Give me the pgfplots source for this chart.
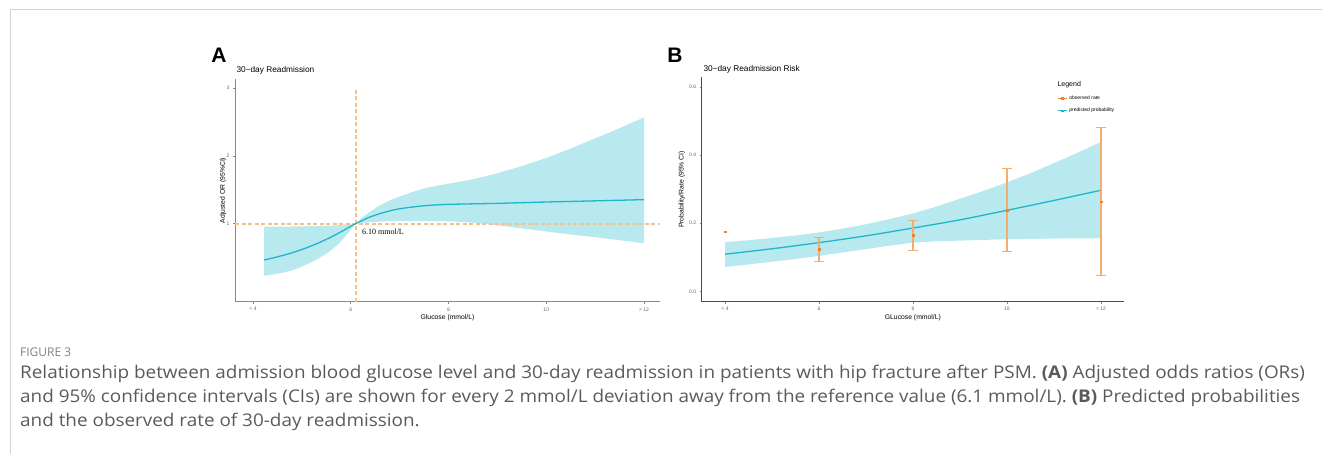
\documentclass[border=0pt]{standalone}
\usepackage{graphicx}
\usepackage{pgfplots}
\pgfplotsset{compat=1.18}
\usepackage{fontspec}
\setmainfont{Liberation Sans}
\newfontfamily\serifA{Liberation Serif}
\newfontfamily\capfont{Open Sans}
\definecolor{cyanline}{HTML}{1FB6CB}
\definecolor{ribboncol}{HTML}{B7E9EF}
\definecolor{refor}{HTML}{F6C08A}
\definecolor{ptor}{HTML}{E8842A}
\definecolor{errcol}{HTML}{F2AE6E}
\definecolor{axgray}{HTML}{8A8A8A}
\definecolor{capgray}{HTML}{5A5A5A}
\pgfplotsset{
 myaxis/.style={
  scale only axis, anchor=south west,
  axis x line*=bottom, axis y line*=left,
  axis line style={axgray, line width=1pt},
  tick style={axgray, line width=0.5pt},
  tick align=outside, major tick length=2pt,
  tick label style={font=\fontsize{5}{6}\selectfont, text=gray!80!black},
  label style={font=\fontsize{6.8}{8}\selectfont},
  xtick={4,6,8,10,12}, xticklabels={< 4,6,8,10,> 12},
  /pgf/number format/assume math mode=true,
 }
}
\begin{document}
\begin{tikzpicture}
\path[use as bounding box] (0pt,0pt) rectangle (1322pt,454pt);
\draw[gray!35, line width=1pt] (10pt,0pt) -- (10pt,444pt) -- (1322pt,444pt);
\node[font=\fontsize{21}{21}\selectfont\bfseries] at (219pt,399pt) {A};
\node[font=\fontsize{21}{21}\selectfont\bfseries] at (675pt,399pt) {B};
\node[anchor=west, font=\fontsize{8.3}{9}\selectfont] at (233pt,384pt) {30−day Readmission};
\node[anchor=west, font=\fontsize{8.3}{9}\selectfont] at (700pt,384.7pt) {30−day Readmission Risk};

\begin{axis}[myaxis, at={(235pt,152pt)}, width=425pt, height=223pt,
  xmin=3.632, xmax=12.327, ymin=-0.157, ymax=3.137, ytick={1,2,3},
  xlabel={Glucose (mmol/L)}, ylabel={Adjusted OR (95\%CI)},
  xlabel style={at={(axis description cs:0.5,-0.04)}, anchor=north},
  ylabel style={at={(axis description cs:-0.012,0.5)}, anchor=south}]
% ribbon: upper bound (left to right) then lower bound (right to left)
\addplot[fill=ribboncol, draw=none] table {
x y
4.23 0.955
4.8 0.958
5.4 0.966
5.8 0.978
6.0 0.99
6.1 1.0
6.25 1.10
6.4 1.18
6.55 1.25
6.7 1.31
6.85 1.36
7.0 1.40
7.25 1.465
7.5 1.52
7.75 1.56
8.0 1.59
8.5 1.655
9.0 1.745
9.5 1.85
10.0 1.97
10.5 2.11
11.0 2.26
11.5 2.41
12.0 2.57
12.0 0.71
11.5 0.755
11.0 0.80
10.5 0.84
10.0 0.885
9.5 0.93
9.0 0.975
8.5 1.015
8.0 1.035
7.5 1.04
7.0 1.04
6.7 1.035
6.4 1.022
6.1 1.0
6.0 0.91
5.9 0.82
5.75 0.70
5.6 0.61
5.5 0.555
5.25 0.45
5.0 0.365
4.8 0.31
4.6 0.275
4.4 0.25
4.23 0.23
} -- cycle;
\addplot[draw=refor, line width=1.8pt, dash pattern=on 4pt off 2.5pt] coordinates {(3.632,1) (12.327,1)};
\addplot[draw=refor, line width=1.8pt, dash pattern=on 4pt off 2.5pt] coordinates {(6.1,-0.157) (6.1,3)};
\addplot[color=cyanline, line width=1.3pt, smooth] table {
x y
4.23 0.464
4.5 0.51
4.8 0.57
5.1 0.645
5.4 0.735
5.7 0.84
6.1 1.0
6.4 1.10
6.7 1.17
7.0 1.22
7.5 1.265
8.0 1.285
9.0 1.30
10.0 1.32
11.0 1.337
12.0 1.355
};
\node[anchor=west, font=\serifA\fontsize{8}{9}\selectfont] at (axis cs:6.16,0.877) {6.10 mmol/L};
\end{axis}

\begin{axis}[myaxis, at={(701.7pt,152.3pt)}, width=422.3pt, height=224.4pt,
  axis line style={black!70, line width=0.8pt},
  xmin=3.504, xmax=12.49, ymin=-0.0306, ymax=0.629,
  ytick={0,0.2,0.4,0.6}, yticklabels={0.0,0.2,0.4,0.6},
  xlabel={GLucose (mmol/L)}, ylabel={Probability/Rate (95\% CI)},
  xlabel style={at={(axis description cs:0.5,-0.04)}, anchor=north},
  ylabel style={at={(axis description cs:-0.031,0.5)}, anchor=south},
  legend style={at={(axis description cs:0.835,0.935)}, anchor=north west, draw=none, fill=none,
    font=\fontsize{5}{6}\selectfont, row sep=3pt},
  legend cell align=left,
  legend image code/.code={\draw[#1, mark repeat=2, mark phase=2] plot coordinates {(0pt,0pt) (4.5pt,0pt) (9pt,0pt)};}]
\addplot[fill=ribboncol, draw=none, forget plot] table {
x y
4 0.145
4.5 0.150
5 0.157
5.5 0.164
6 0.173
6.5 0.184
7 0.197
7.5 0.212
8 0.229
8.5 0.249
9 0.272
9.5 0.295
10 0.32
10.5 0.347
11 0.377
11.5 0.407
12 0.439
12 0.156
11 0.155
10 0.153
9.5 0.151
9 0.149
8.5 0.147
8 0.143
7.5 0.134
7 0.124
6.5 0.114
6 0.104
5.5 0.095
5 0.087
4.5 0.079
4 0.0715
} -- cycle;
\addplot[color=cyanline, line width=1.3pt, smooth, forget plot] table {
x y
4 0.109
5 0.125
6 0.143
7 0.163
8 0.186
9 0.210
10 0.238
11 0.267
12 0.297
};
\addplot[only marks, mark=square*, mark size=0.9pt, color=ptor, forget plot,
  error bars/.cd, y dir=both, y explicit,
  error bar style={draw=errcol, line width=1.1pt},
  error mark options={draw=errcol, line width=1.1pt, mark size=5pt, rotate=90}]
  table[x=x, y=y, y error plus=ep, y error minus=em] {
x y ep em
6 0.1235 0.0355 0.0355
8 0.165 0.043 0.0445
10 0.239 0.123 0.121
12 0.2636 0.2174 0.2176
};
\addplot[only marks, mark=square*, mark size=0.9pt, color=ptor, forget plot] coordinates {(4,0.175)};
\addlegendimage{color=ptor, line width=0.9pt, mark=square*, mark size=0.8pt}
\addlegendentry{observed rate}
\addlegendimage{color=cyanline, line width=0.9pt, mark=square*, mark size=0.8pt}
\addlegendentry{predicted probability}
\end{axis}
\node[anchor=west, font=\fontsize{7}{8}\selectfont] at (1054pt,369.7pt) {Legend};

\node[anchor=base west, inner sep=0pt, font=\capfont\fontsize{12}{14}\selectfont, text=gray] at (20pt,97pt) {FIGURE 3};
\node[anchor=base west, inner sep=0pt, font=\capfont\fontsize{17.5}{20}\selectfont, text=capgray] at (20pt,75pt) {\scalebox{1.08}[1]{Relationship between admission blood glucose level and 30-day readmission in patients with hip fracture after PSM. \textbf{(A)} Adjusted odds ratios (ORs)}};
\node[anchor=base west, inner sep=0pt, font=\capfont\fontsize{17.5}{20}\selectfont, text=capgray] at (20pt,51pt) {\scalebox{1.08}[1]{and 95\% confidence intervals (CIs) are shown for every 2 mmol/L deviation away from the reference value (6.1 mmol/L). \textbf{(B)} Predicted probabilities}};
\node[anchor=base west, inner sep=0pt, font=\capfont\fontsize{17.5}{20}\selectfont, text=capgray] at (20pt,27pt) {\scalebox{1.08}[1]{and the observed rate of 30-day readmission.}};
\end{tikzpicture}
\end{document}
